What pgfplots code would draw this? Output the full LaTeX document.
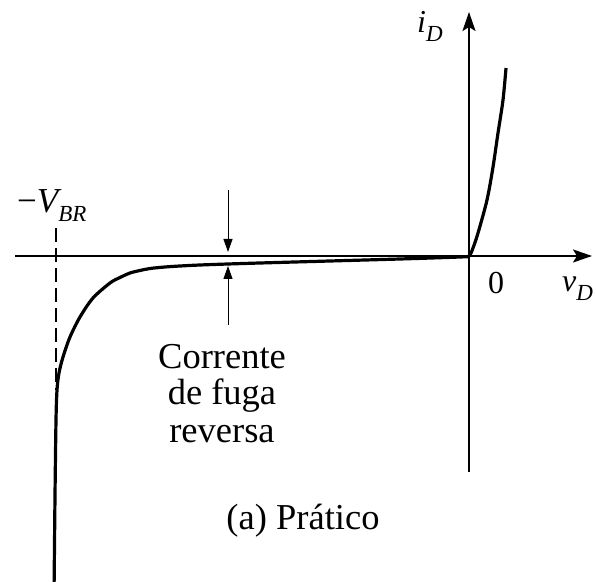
\documentclass[border=0pt]{standalone}
\usepackage{fontspec}
\setmainfont{Liberation Serif}
\usepackage{pgfplots}
\pgfplotsset{compat=1.18}
\usetikzlibrary{arrows.meta}

% text sizes used in the diagram
\newcommand{\txt}{\fontsize{36.5bp}{40bp}\selectfont}
\newcommand{\sym}[3][32bp]{{\fontsize{#1}{36bp}\selectfont\itshape #2}\raisebox{-9bp}{\fontsize{23bp}{26bp}\selectfont\itshape #3}}

\begin{document}
\begin{tikzpicture}
\path[use as bounding box] (0,0) rectangle (596bp,582bp);
\clip (0,0) rectangle (596bp,582bp);
\begin{axis}[
  scale only axis, width=596bp, height=582bp,
  xmin=-469, xmax=127, ymin=-326, ymax=256,
  hide axis, clip=false,
]
% coordinate axes
\draw[line width=2.2bp, -{Stealth[length=19bp,width=13bp,inset=4bp]}] (axis cs:-454,0) -- (axis cs:123,0);
\draw[line width=2.2bp, -{Stealth[length=19bp,width=13bp,inset=4bp]}] (axis cs:0,-216) -- (axis cs:0,244);

% breakdown voltage marker
\draw[line width=1.5bp, dash pattern=on 14bp off 6bp] (axis cs:-413,28) -- (axis cs:-413,-134);

% diode characteristic
\addplot[line width=3.2bp, black, smooth, tension=0.5] coordinates {
  (37,188) (34,156) (29,123) (24,89) (18,56) (9,23) (4,8) (0,0)
  (-9,-1) (-69,-3) (-139,-5) (-209,-7) (-241,-8) (-269,-9)
  (-289,-10) (-304,-11) (-319,-12.5) (-329,-14.5) (-339,-17)
  (-349,-21.5) (-359,-27) (-376,-42) (-389,-61) (-399,-81)
  (-406,-101) (-410,-117) (-412,-134) (-413,-164) (-414,-240) (-415,-340)
};

% leakage current indicators
\draw[line width=1bp, -{Triangle[length=13bp,width=9bp]}] (axis cs:-241,66) -- (axis cs:-241,4);
\draw[line width=1bp, -{Triangle[length=13bp,width=9bp]}] (axis cs:-241,-69) -- (axis cs:-241,-10);

% labels
\node[anchor=base west, inner sep=0pt] at (axis cs:-52,223) {\sym{i}{D}};
\node[anchor=base west, inner sep=0pt] at (axis cs:-452,43) {\sym[35bp]{\upshape\char"2212\itshape V}{BR}};
\node[inner sep=0pt] at (axis cs:27,-27) {\fontsize{32bp}{36bp}\selectfont 0};
\node[anchor=base west, inner sep=0pt] at (axis cs:93,-36) {\sym{v}{D}};

\node[anchor=base, inner sep=0pt] at (axis cs:-247,-113) {\txt Corrente};
\node[anchor=base, inner sep=0pt] at (axis cs:-247,-149) {\txt de fuga};
\node[anchor=base, inner sep=0pt] at (axis cs:-247,-187) {\txt reversa};
\node[anchor=base, inner sep=0pt] at (axis cs:-166,-274) {\txt (a) Prático};
\end{axis}
\end{tikzpicture}
\end{document}
